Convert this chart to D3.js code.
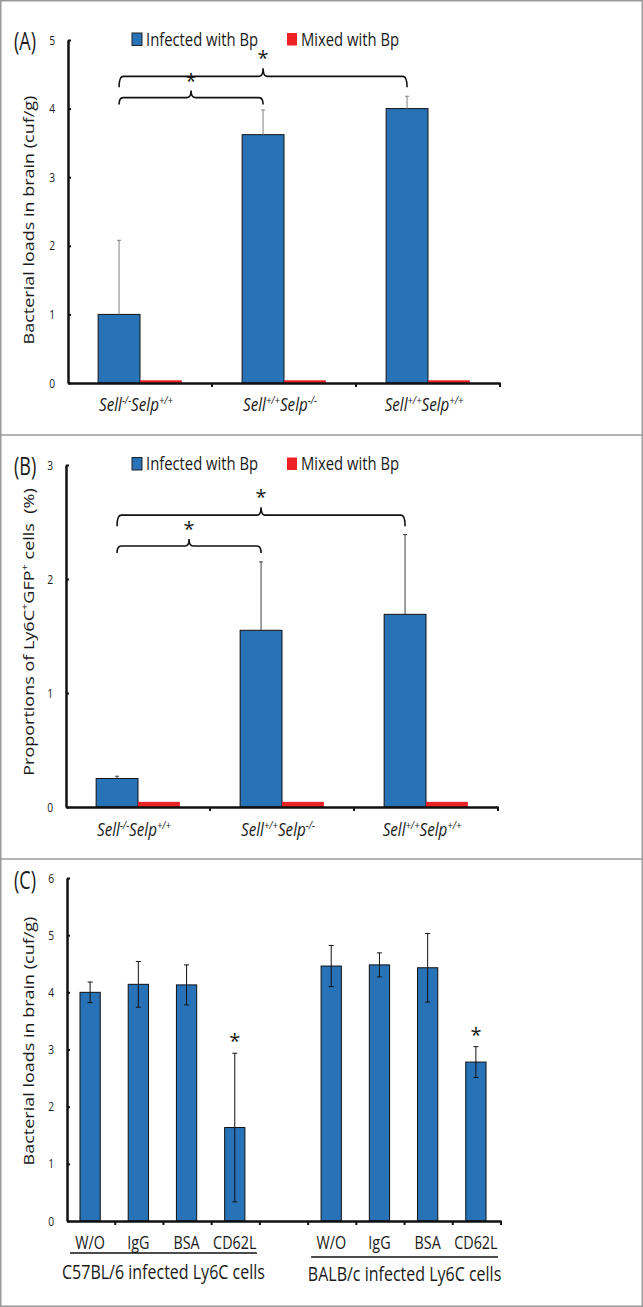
<!DOCTYPE html>
<html><head><meta charset="utf-8">
<script src="https://cdn.jsdelivr.net/npm/d3@7"></script>
<style>
body{margin:0;background:#fff}
svg{display:block}
text{font-family:"Open Sans",sans-serif;fill:#1a1a1a;white-space:pre}
</style>
</head><body>
<svg id="chart" width="643" height="1307"></svg>
<script>
// ---------------- data ----------------
const seriesNames = ["Infected with Bp", "Mixed with Bp"];
const genotypes = ["Sell-/-Selp+/+", "Sell+/+Selp-/-", "Sell+/+Selp+/+"];
const sellSup = ["-/-", "+/+", "+/+"];
const selpSup = ["+/+", "-/-", "+/+"];

const aInfected = [1.00, 3.62, 4.00];
const aInfectedErr = [1.08, 0.36, 0.18];
const aMixed = [0.04, 0.04, 0.04];
const aTicks = [0, 1, 2, 3, 4, 5];
const aComparisons = [[0, 1], [0, 2]];
const aBracketLevels = [4.16, 4.47];

const bInfected = [0.25, 1.55, 1.69];
const bInfectedErr = [0.02, 0.60, 0.70];
const bMixed = [0.045, 0.045, 0.045];
const bTicks = [0, 1, 2, 3];
const bComparisons = [[0, 1], [0, 2]];
const bBracketLevels = [2.29, 2.56];

const cTreatments = ["W/O", "IgG", "BSA", "CD62L", "", "W/O", "IgG", "BSA", "CD62L"];
const cValues = [4.00, 4.14, 4.13, 1.635, null, 4.46, 4.48, 4.43, 2.78];
const cErr = [0.18, 0.40, 0.35, 1.30, null, 0.36, 0.21, 0.60, 0.27];
const cSignificant = [false, false, false, true, false, false, false, false, true];
const cGroups = ["C57BL/6 infected Ly6C cells", "BALB/c infected Ly6C cells"];
const cGroupMembers = [[0, 3], [5, 8]];
const cTicks = [0, 1, 2, 3, 4, 5, 6];

const yTitleLoads = [{t: "Bacterial loads in brain (cuf/g)"}];
const yTitleProp = [{t: "Proportions of Ly6C"}, {t: "+", sup: true}, {t: "GFP"}, {t: "+", sup: true}, {t: " cells  (%)"}];

// ---------------- style ----------------
const BLUE = "#2873B8", RED = "#EC2227";
const SX = 0.82;
const color = d3.scaleOrdinal().domain(seriesNames).range([BLUE, RED]);
const svg = d3.select("#chart");

function addParts(text, parts, size) {
  let shift = 0;
  parts.forEach(p => {
    const ts = text.append("tspan").text(p.t);
    if (p.sup) {
      ts.attr("font-size", size * 0.62).attr("dy", -size * 0.38 - shift);
      shift = -size * 0.38;
    } else {
      if (shift !== 0) ts.attr("dy", -shift);
      shift = 0;
    }
  });
  return text;
}
function hText(parent, x, y, parts, size, opts = {}) {
  const g = parent.append("g").attr("transform", `translate(${x},${y}) scale(${opts.sx || SX},1)`);
  const t = g.append("text").attr("font-size", size).attr("text-anchor", opts.anchor || "start");
  if (opts.italic) t.attr("font-style", "italic");
  addParts(t, typeof parts === "string" ? [{t: parts}] : parts, size);
  return t;
}
function vText(parent, x, y, parts, size) {
  const g = parent.append("g").attr("transform", `translate(${x},${y}) rotate(-90) scale(1,${SX})`);
  const t = g.append("text").attr("font-size", size).attr("text-anchor", "middle");
  addParts(t, parts, size);
  return t;
}
function styleAxis(ax) {
  ax.attr("font-family", null).attr("font-size", null);
  ax.select(".domain").attr("stroke", "#111").attr("stroke-width", 2.5);
  ax.selectAll(".tick line").attr("stroke", "#111").attr("stroke-width", 2);
  ax.selectAll(".tick text").attr("font-size", 12.5).attr("fill", "#1a1a1a")
    .attr("transform", function () { return `scale(${SX},1)`; })
    .attr("x", function () { return +d3.select(this).attr("x") / SX; });
}
function bracket(parent, xa, xb, yy, drop, peak) {
  const xm = (xa + xb) / 2, r = 4;
  const p = d3.path();
  p.moveTo(xa, yy + drop);
  p.quadraticCurveTo(xa, yy, xa + r, yy);
  p.lineTo(xm - r, yy);
  p.quadraticCurveTo(xm, yy, xm, yy - peak);
  p.quadraticCurveTo(xm, yy, xm + r, yy);
  p.lineTo(xb - r, yy);
  p.quadraticCurveTo(xb, yy, xb, yy + drop);
  parent.append("path").attr("d", p.toString()).attr("fill", "none")
    .attr("stroke", "#111").attr("stroke-width", 1.6);
  parent.append("text").attr("x", xm).attr("y", yy - peak - 3).attr("text-anchor", "middle")
    .attr("font-size", 20).text("*");
}
function legend(parent, ly, xs) {
  seriesNames.forEach((s, i) => {
    parent.append("rect").attr("x", xs[i]).attr("y", ly - 12.5).attr("width", 10).attr("height", 12.5)
      .attr("fill", color(s)).attr("stroke", i === 0 ? "#222" : "none").attr("stroke-width", 1);
    hText(parent, xs[i] + 14, ly, s, 18.5, {sx: 0.8});
  });
}

// ---------------- frame ----------------
svg.append("rect").attr("x", 0.75).attr("y", 0.75).attr("width", 641.5).attr("height", 1305.5)
  .attr("fill", "none").attr("stroke", "#9a9a9a").attr("stroke-width", 1.5);
[435, 859].forEach(yy => svg.append("line").attr("x1", 0).attr("x2", 643).attr("y1", yy).attr("y2", yy)
  .attr("stroke", "#9a9a9a").attr("stroke-width", 1.5));

// ---------------- panels A & B ----------------
function genotypePanel(cfg) {
  const g = svg.append("g");
  const y = d3.scaleLinear().domain([0, d3.max(cfg.ticks)]).range([cfg.bottom, cfg.top]);
  const x0 = d3.scaleBand().domain(d3.range(genotypes.length)).range([cfg.left, cfg.right]);
  const x1 = d3.scaleBand().domain(seriesNames).range([0, x0.bandwidth()]).paddingOuter(0.72).paddingInner(0);
  const rows = genotypes.map((gt, i) => ({i, vals: [cfg.infected[i], cfg.mixed[i]], err: cfg.err[i]}));

  rows.forEach(r => {
    seriesNames.forEach((s, k) => {
      g.append("rect").attr("x", x0(r.i) + x1(s)).attr("width", x1.bandwidth())
        .attr("y", y(r.vals[k])).attr("height", y(0) - y(r.vals[k]))
        .attr("fill", color(s)).attr("stroke", k === 0 ? "#111" : "none").attr("stroke-width", 1);
    });
    const cx = x0(r.i) + x1(seriesNames[0]) + x1.bandwidth() / 2;
    g.append("line").attr("x1", cx).attr("x2", cx).attr("y1", y(r.vals[0])).attr("y2", y(r.vals[0] + r.err))
      .attr("stroke", cfg.errColor).attr("stroke-width", 1);
    g.append("line").attr("x1", cx - 2).attr("x2", cx + 2).attr("y1", y(r.vals[0] + r.err)).attr("y2", y(r.vals[0] + r.err))
      .attr("stroke", cfg.errColor).attr("stroke-width", 1);
  });

  const ay = g.append("g").attr("transform", `translate(${cfg.left},0)`)
    .call(d3.axisLeft(y).tickValues(cfg.ticks).tickSize(-3).tickSizeOuter(0).tickPadding(13).tickFormat(d3.format("d")));
  styleAxis(ay);
  const ax = g.append("g").attr("transform", `translate(0,${cfg.bottom})`)
    .call(d3.axisBottom(x0).tickValues([]).tickSizeOuter(0));
  styleAxis(ax);
  x0.domain().forEach(i => {
    const xe = x0(i) + x0.bandwidth();
    g.append("line").attr("x1", xe).attr("x2", xe).attr("y1", cfg.bottom).attr("y2", cfg.bottom + 4)
      .attr("stroke", "#111").attr("stroke-width", 2);
  });

  x0.domain().forEach(i => {
    hText(g, x0(i) + x0.bandwidth() / 2 - 4, cfg.labelY,
      [{t: "Sell"}, {t: sellSup[i], sup: true}, {t: "Selp"}, {t: selpSup[i], sup: true}],
      18.5, {anchor: "middle", italic: true});
  });

  cfg.comparisons.forEach((c, j) => {
    const xa = x0(c[0]) + x1(seriesNames[0]) + x1.bandwidth() / 2;
    const xb = x0(c[1]) + x1(seriesNames[0]) + x1.bandwidth() / 2;
    bracket(g, xa, xb, y(cfg.levels[j]), j === 0 ? 7 : 11, j === 0 ? 7 : 8);
  });

  legend(g, cfg.legendY, [132, 287]);
  hText(g, 14, cfg.tagY, cfg.tag, 25, {sx: 0.72});
  vText(g, 34, cfg.titleY, cfg.title, 18);
}

genotypePanel({left: 68, right: 500, top: 40, bottom: 383, ticks: aTicks, infected: aInfected, err: aInfectedErr,
  mixed: aMixed, comparisons: aComparisons, levels: aBracketLevels, errColor: "#808080",
  labelY: 411, legendY: 45.5, tag: "(A)", tagY: 50, title: yTitleLoads, titleY: 220});

genotypePanel({left: 66, right: 498, top: 465, bottom: 807, ticks: bTicks, infected: bInfected, err: bInfectedErr,
  mixed: bMixed, comparisons: bComparisons, levels: bBracketLevels, errColor: "#404040",
  labelY: 836, legendY: 470, tag: "(B)", tagY: 475, title: yTitleProp, titleY: 632});

// ---------------- panel C ----------------
(function () {
  const left = 67, right = 501, top = 878, bottom = 1221;
  const g = svg.append("g");
  const y = d3.scaleLinear().domain([0, d3.max(cTicks)]).range([bottom, top]);
  const x = d3.scaleBand().domain(d3.range(cTreatments.length)).range([left, right]);
  const bw = x.bandwidth() * 0.42;

  cValues.forEach((v, i) => {
    if (v == null) return;
    const cx = x(i) + x.bandwidth() / 2 - 1;
    g.append("rect").attr("x", cx - bw / 2).attr("width", bw).attr("y", y(v)).attr("height", y(0) - y(v))
      .attr("fill", BLUE).attr("stroke", "#111").attr("stroke-width", 1);
    const e = cErr[i];
    g.append("line").attr("x1", cx).attr("x2", cx).attr("y1", y(v - e)).attr("y2", y(v + e))
      .attr("stroke", "#111").attr("stroke-width", 1);
    [v - e, v + e].forEach(w => g.append("line").attr("x1", cx - 2.5).attr("x2", cx + 2.5)
      .attr("y1", y(w)).attr("y2", y(w)).attr("stroke", "#111").attr("stroke-width", 1));
    if (cSignificant[i]) {
      g.append("text").attr("x", cx).attr("y", y(v + e) - 5).attr("text-anchor", "middle")
        .attr("font-size", 20).text("*");
    }
    hText(g, cx, 1249, cTreatments[i], 17.5, {anchor: "middle"});
  });

  const ay = g.append("g").attr("transform", `translate(${left},0)`)
    .call(d3.axisLeft(y).tickValues(cTicks).tickSize(-3).tickSizeOuter(0).tickPadding(13).tickFormat(d3.format("d")));
  styleAxis(ay);
  const ax = g.append("g").attr("transform", `translate(0,${bottom})`)
    .call(d3.axisBottom(x).tickValues([]).tickSizeOuter(0));
  styleAxis(ax);
  x.domain().forEach(i => {
    const xe = x(i) + x.bandwidth();
    g.append("line").attr("x1", xe).attr("x2", xe).attr("y1", bottom).attr("y2", bottom + 4)
      .attr("stroke", "#111").attr("stroke-width", 2);
  });

  cGroups.forEach((name, k) => {
    const [a, b] = cGroupMembers[k];
    const xa = x(a) + 3, xb = x(b) + x.bandwidth() - 3;
    const ly = 1253 + k * 4;
    g.append("line").attr("x1", xa).attr("x2", xb).attr("y1", ly).attr("y2", ly)
      .attr("stroke", "#111").attr("stroke-width", 1.5);
    hText(g, (xa + xb) / 2, 1279 + k * 2, name, 20, {anchor: "middle", sx: 0.8});
  });

  hText(g, 14, 889, "(C)", 25, {sx: 0.72});
  vText(g, 34, 1041, yTitleLoads, 18);
})();
</script>
</body></html>
